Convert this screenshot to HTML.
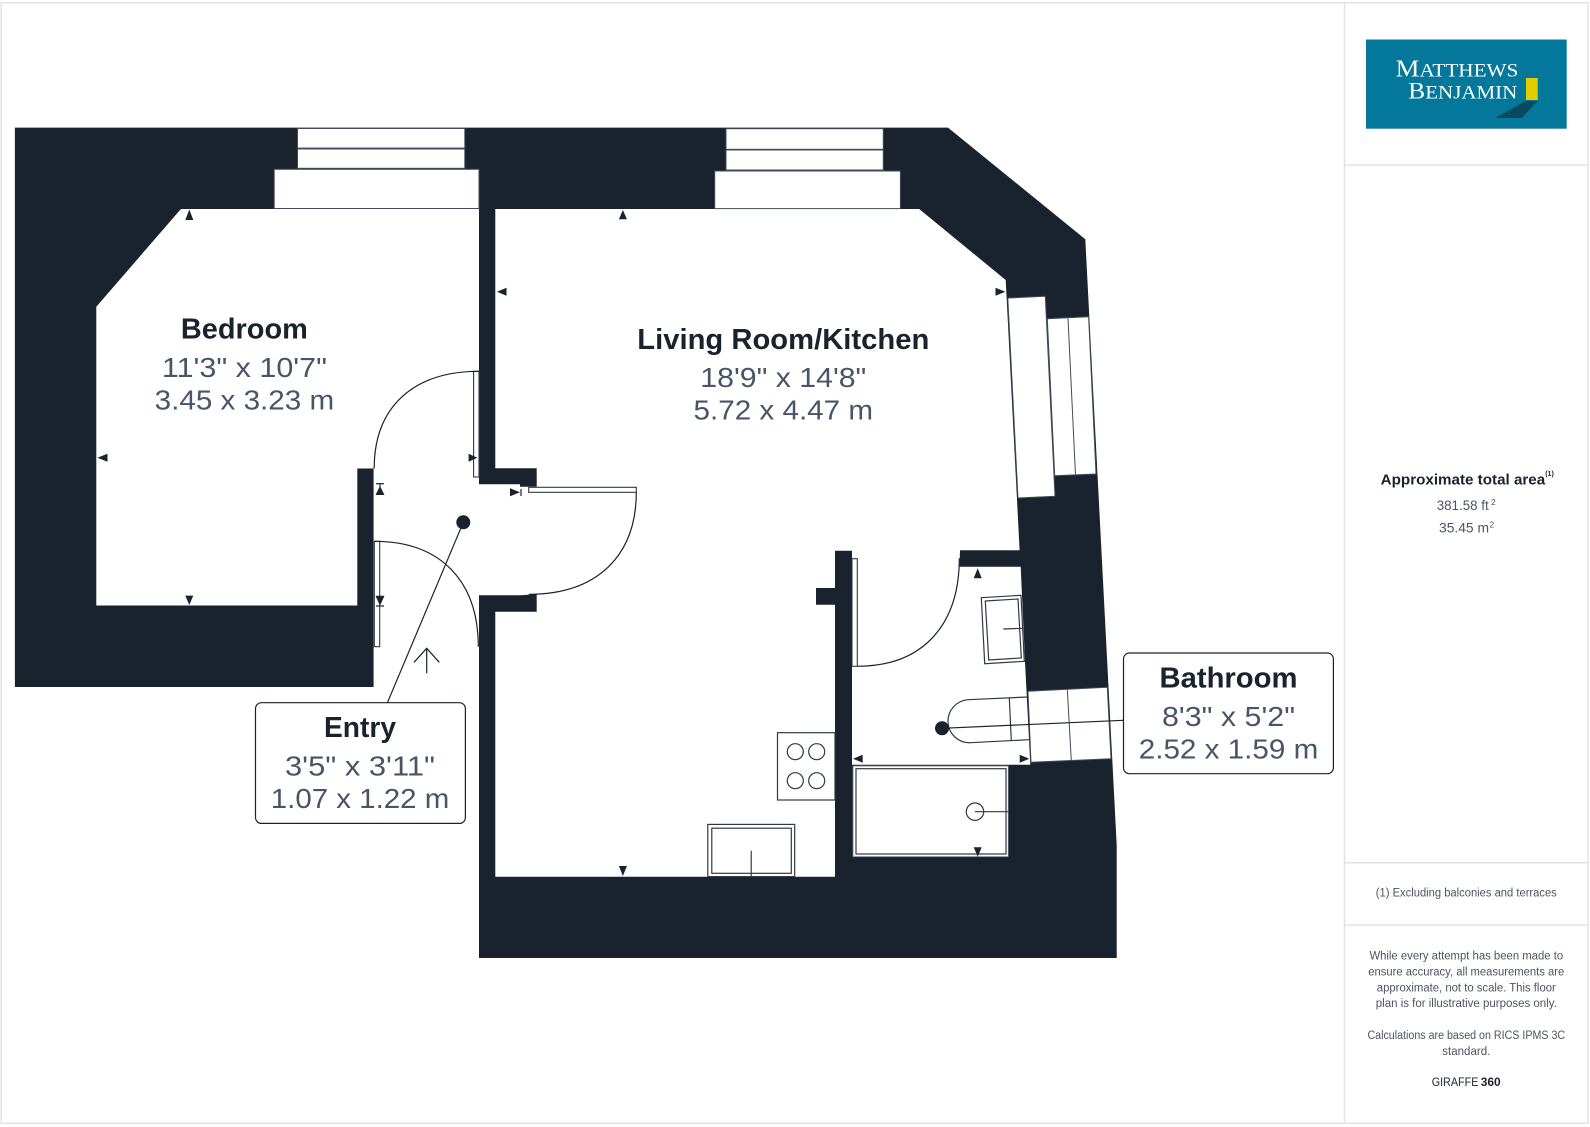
<!DOCTYPE html>
<html><head><meta charset="utf-8"><title>Floor plan</title>
<style>
html,body{margin:0;padding:0;background:#fff;width:1590px;height:1127px;overflow:hidden}
svg{display:block}
text{font-family:"Liberation Sans",sans-serif;text-anchor:middle}
.t{font-weight:700;fill:#1a222e;font-size:29px}
.d{fill:#475569;font-size:28px}
.s{fill:#4b5563;font-size:11.5px}
</style></head><body>
<svg xmlns="http://www.w3.org/2000/svg" width="1590" height="1127" viewBox="0 0 1590 1127">
<rect x="1.3" y="2.7" width="1586.7" height="1120.5" fill="#fff" stroke="#e3e3e3" stroke-width="1.5"/>
<g stroke="#e3e3e3" stroke-width="1.5"><line x1="1344.5" y1="3" x2="1344.5" y2="1123"/><line x1="1344.5" y1="165" x2="1588" y2="165"/><line x1="1344.5" y1="862.7" x2="1588" y2="862.7"/><line x1="1344.5" y1="925" x2="1588" y2="925"/></g>

<!-- walls -->
<polygon fill="#1a222e" points="14.9,127.6 948,127.6 1085.3,239.3 1116.7,845 1116.7,958 479,958 479,687 14.9,687"/>
<!-- interior -->
<polygon fill="#fff" points="180.9,209 479,209 479,484.3 520,484.3 520,486.7 536.7,486.7 536.7,468.3 495.3,468.3 495.3,209 919.2,209 1005.7,280 1019.6,550.3 960,550.3 959.5,566.7 1020.7,566.7 1025,662 1030.3,764.7 852,764.7 852,550.7 835,550.7 835,588 816,588 816,604.7 835,604.7 835,876.7 495.3,876.7 495.3,611.7 536.7,611.7 536.7,594.3 520,595.3 479,595.3 479,700 373.6,700 373.6,468.5 357.3,468.5 357.3,605.5 96.3,605.5 96.3,306.7"/>
<rect x="373" y="687" width="106" height="20" fill="#fff"/>

<!-- windows -->
<g fill="#fff" stroke="#414b59" stroke-width="1">
<rect x="297.5" y="128.5" width="167.3" height="19.6"/><rect x="297.5" y="149" width="167.3" height="19.3"/>
<rect x="274.2" y="169.3" width="204.8" height="39.2"/>
<rect x="726" y="128.7" width="157.3" height="20.6"/><rect x="726" y="150" width="157.3" height="20"/>
<rect x="714.7" y="171" width="185.7" height="37.6"/>
<polygon points="1007.8,298 1045.3,296.3 1055,496.3 1018,498"/>
<polygon points="1047.3,318.7 1088.6,316.7 1096,474 1054.7,475.7"/>
<line x1="1068" y1="318.3" x2="1075.5" y2="475"/>
<polygon points="1028,691.3 1107.3,687.3 1111,758.7 1031,762.3"/>
<line x1="1067.3" y1="689.3" x2="1071.3" y2="760.7"/>
</g>

<!-- fixtures -->
<g fill="#fff" stroke="#303947" stroke-width="1.2">
<rect x="777.5" y="732.7" width="57.5" height="67.3"/>
<circle cx="795.3" cy="751.7" r="8"/><circle cx="816.7" cy="751.7" r="8"/><circle cx="795.3" cy="780.7" r="8"/><circle cx="816.7" cy="780.7" r="8"/>
<rect x="707.8" y="824.4" width="86.9" height="52.2"/><rect x="711.8" y="828.2" width="79.5" height="45.1"/>
<line x1="751.2" y1="850.7" x2="751.2" y2="876"/>
<rect x="853" y="766" width="155.3" height="90.7" stroke="#6b7280" stroke-width=".8"/>
<rect x="856" y="768.7" width="150" height="85.3"/>
<circle cx="975" cy="811.7" r="8.7"/><line x1="975" y1="811.7" x2="1008.3" y2="811.7"/>
<polygon points="981.3,597.7 1021,595.3 1024.3,661.3 984.7,663.7"/>
<polygon points="985.3,601 1018,599 1021.3,658 988.7,660"/>
<line x1="1003.3" y1="629" x2="1023" y2="628.3"/>
<path d="M1027.3,697 L968.3,699.7 A21.5,21.5 0 0 0 970.7,742.7 L1029,739.7" fill="none"/>
<line x1="1009.3" y1="698" x2="1011.3" y2="740.7"/>
</g>

<!-- doors -->
<g fill="#fff" stroke="#303947" stroke-width="1.1">
<rect x="473.6" y="371.3" width="5.4" height="105.7"/>
<rect x="374.3" y="541.3" width="5.4" height="105.4"/>
<rect x="528.7" y="487.3" width="107.6" height="5"/>
<rect x="852" y="558.7" width="5.3" height="107.6"/>
</g>
<g fill="none" stroke="#1a222e" stroke-width="1.2">
<path d="M479,371.3 C413,371.3 374.2,407.3 374.2,468.5"/>
<path d="M374.3,541.3 C439.8,541.3 478.3,580.3 478.3,646.7"/>
<path d="M636.3,492 C636.3,556.4 596.5,594.3 528.7,594.3"/>
<path d="M857.3,666.3 C921.6,666.3 959.3,626.3 959.3,558.3"/>
<path d="M426.7,673.3 V648.3 M414,662.3 L426.7,648.3 L439.3,662.3"/>
<line x1="463.3" y1="522.3" x2="387.4" y2="702.7"/>
<line x1="942" y1="728.3" x2="1123.5" y2="720.3"/>
<line x1="376" y1="483.7" x2="384" y2="483.7"/>
<line x1="380" y1="483.7" x2="380" y2="490"/>
<line x1="376" y1="606" x2="384" y2="606"/>
<line x1="521" y1="489" x2="521" y2="496"/>
</g>
<circle cx="463.3" cy="522.3" r="7" fill="#1a222e"/>
<circle cx="942" cy="728.3" r="7" fill="#1a222e"/>

<!-- dimension arrows -->
<g fill="#1a222e">
<polygon points="189.3,209.5 185.3,220 193.3,220"/>
<polygon points="189.3,605 185.3,595.6 193.3,595.6"/>
<polygon points="97.4,457.8 107.5,453.8 107.5,461.8"/>
<polygon points="477.4,457.8 468.6,453.8 468.6,461.8"/>
<polygon points="380,486 375.5,495 384.5,495"/>
<polygon points="380,605.7 375.5,595.7 384.5,595.7"/>
<polygon points="520,492.3 510,488.3 510,496.3"/>
<polygon points="622.9,210 618.9,219.3 626.9,219.3"/>
<polygon points="622.9,876 618.9,866 626.9,866"/>
<polygon points="497,291.7 506.5,287.7 506.5,295.7"/>
<polygon points="1005.3,291.7 995.5,287.7 995.5,295.7"/>
<polygon points="977.7,568.3 973.7,578.3 981.7,578.3"/>
<polygon points="853,758.7 862.7,754.7 862.7,762.7"/>
<polygon points="1029.3,758.7 1019.7,754.7 1019.7,762.7"/>
<polygon points="977.7,856.7 973.7,847.3 981.7,847.3"/>
</g>

<!-- label boxes -->
<rect x="255.5" y="702.7" width="209.9" height="120.7" rx="6" fill="#fff" stroke="#1a222e" stroke-width="1.2"/>
<rect x="1123.5" y="653" width="209.9" height="120.7" rx="6" fill="#fff" stroke="#1a222e" stroke-width="1.2"/>

<!-- room labels -->
<text class="t" x="244.4" y="338.7" textLength="127" lengthAdjust="spacingAndGlyphs">Bedroom</text>
<text class="d" x="244.4" y="377" textLength="165" lengthAdjust="spacingAndGlyphs">11'3" x 10'7"</text>
<text class="d" x="244.4" y="409.3" textLength="179.5" lengthAdjust="spacingAndGlyphs">3.45 x 3.23 m</text>

<text class="t" x="783.3" y="349" textLength="292" lengthAdjust="spacingAndGlyphs">Living Room/Kitchen</text>
<text class="d" x="783.3" y="387" textLength="166" lengthAdjust="spacingAndGlyphs">18'9" x 14'8"</text>
<text class="d" x="783.3" y="419.3" textLength="179.5" lengthAdjust="spacingAndGlyphs">5.72 x 4.47 m</text>

<text class="t" x="360" y="737" textLength="72" lengthAdjust="spacingAndGlyphs">Entry</text>
<text class="d" x="360" y="775.7" textLength="150" lengthAdjust="spacingAndGlyphs">3'5" x 3'11"</text>
<text class="d" x="360" y="808" textLength="178.5" lengthAdjust="spacingAndGlyphs">1.07 x 1.22 m</text>

<text class="t" x="1228.5" y="687.5" textLength="138" lengthAdjust="spacingAndGlyphs">Bathroom</text>
<text class="d" x="1228.5" y="726" textLength="133" lengthAdjust="spacingAndGlyphs">8'3" x 5'2"</text>
<text class="d" x="1228.5" y="758.5" textLength="179.5" lengthAdjust="spacingAndGlyphs">2.52 x 1.59 m</text>

<!-- logo -->
<rect x="1366" y="39.5" width="200.7" height="89.2" fill="#04789b"/>
<rect x="1526" y="78" width="11.7" height="22" fill="#e2cd00"/>
<polygon points="1526,101 1537.7,101 1521.7,118 1495,118" fill="#0a4a60"/>
<text x="1395.7" y="76.7" fill="#fff" style="font-family:'Liberation Serif',serif;text-anchor:start;font-size:19px" textLength="122.6" lengthAdjust="spacingAndGlyphs"><tspan font-size="24">M</tspan>ATTHEWS</text>
<text x="1408.3" y="98.7" fill="#fff" style="font-family:'Liberation Serif',serif;text-anchor:start;font-size:19px" textLength="109" lengthAdjust="spacingAndGlyphs"><tspan font-size="23">B</tspan>ENJAMIN</text>

<!-- sidebar -->
<text x="1380.7" y="484.7" style="text-anchor:start;font-weight:700;font-size:14.5px" fill="#1a222e" textLength="164.5" lengthAdjust="spacingAndGlyphs">Approximate total area</text>
<text x="1549.5" y="476" style="font-weight:700;font-size:7px" fill="#1a222e">(1)</text>
<text x="1436.7" y="510" fill="#4b5563" style="text-anchor:start;font-size:13.5px" textLength="52" lengthAdjust="spacingAndGlyphs">381.58 ft</text>
<text x="1491" y="505" fill="#4b5563" style="text-anchor:start;font-size:8.5px">2</text>
<text x="1439" y="532.4" fill="#4b5563" style="text-anchor:start;font-size:13.5px" textLength="50" lengthAdjust="spacingAndGlyphs">35.45 m</text>
<text x="1489.5" y="527.4" fill="#4b5563" style="text-anchor:start;font-size:8.5px">2</text>

<text class="s" x="1466.3" y="896.7" textLength="181" lengthAdjust="spacingAndGlyphs">(1) Excluding balconies and terraces</text>
<text class="s" x="1466.3" y="959.3" textLength="193.7" lengthAdjust="spacingAndGlyphs">While every attempt has been made to</text>
<text class="s" x="1466.3" y="975.3" textLength="196" lengthAdjust="spacingAndGlyphs">ensure accuracy, all measurements are</text>
<text class="s" x="1466.3" y="991.3" textLength="179" lengthAdjust="spacingAndGlyphs">approximate, not to scale. This floor</text>
<text class="s" x="1466.3" y="1007" textLength="181" lengthAdjust="spacingAndGlyphs">plan is for illustrative purposes only.</text>
<text class="s" x="1466.3" y="1039" textLength="197.7" lengthAdjust="spacingAndGlyphs">Calculations are based on RICS IPMS 3C</text>
<text class="s" x="1466.3" y="1055" textLength="48" lengthAdjust="spacingAndGlyphs">standard.</text>
<text x="1431.7" y="1086" style="text-anchor:start;font-size:12px" fill="#1a222e" textLength="46.7" lengthAdjust="spacingAndGlyphs">GIRAFFE</text>
<text x="1480.7" y="1086" style="text-anchor:start;font-size:12px;font-weight:700" fill="#1a222e" textLength="20" lengthAdjust="spacingAndGlyphs">360</text>
</svg>
</body></html>
